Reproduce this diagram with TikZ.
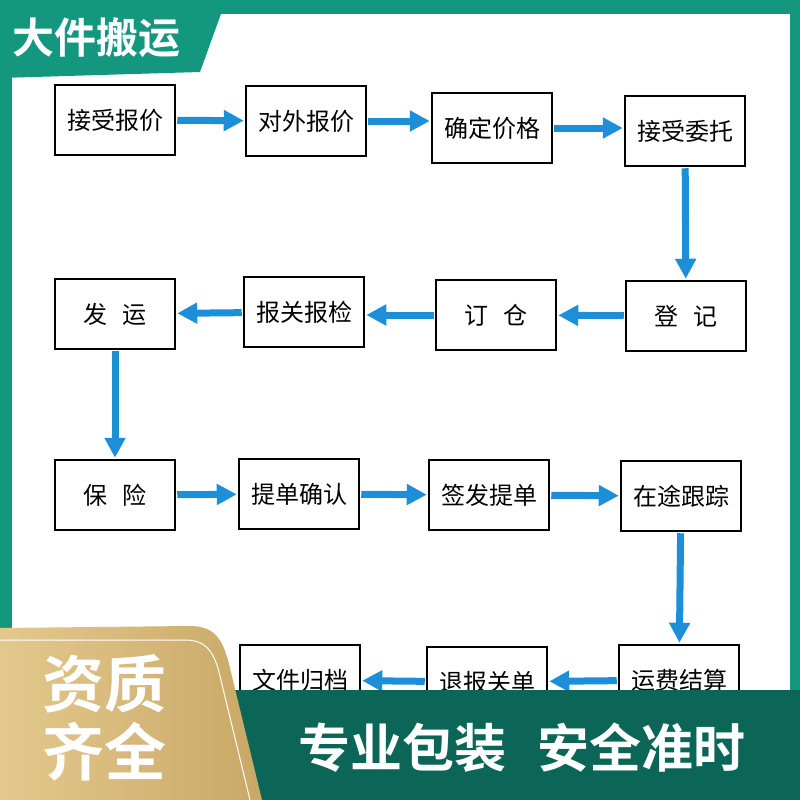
\documentclass[tikz,border=0pt]{standalone}
\usepackage{fontspec}
\setmainfont{Noto Sans CJK SC}
\newfontfamily\cjkb{Noto Sans CJK SC Bold}
\usetikzlibrary{arrows.meta}
\definecolor{teal1}{HTML}{14977F}
\definecolor{dkgreen}{HTML}{0B6657}
\definecolor{gold1}{HTML}{E3C98E}
\definecolor{gold2}{HTML}{C9A866}
\definecolor{arrblue}{HTML}{1C8FD8}
\tikzset{
 stepbox/.style={draw=black,line width=2.5pt,fill=white,minimum width=120pt,minimum height=70pt,font=\fontsize{24}{26}\selectfont,inner sep=0pt},
 flow/.style={draw=arrblue,line width=7pt,-{Triangle[length=20pt,width=20pt]},shorten <=1pt,shorten >=1pt}
}
\begin{document}
\begin{tikzpicture}[x=1pt,y=-1pt]
\useasboundingbox (0,0) rectangle (800,800);
\fill[teal1] (0,0) rectangle (800,800);
\fill[white] (12,14) rectangle (790,700);
% banner
\fill[teal1] (0,0) -- (226,0) -- (200,72) -- (0,78) -- cycle;
\node[text=white,anchor=west,font=\cjkb\fontsize{42}{44}\selectfont,inner sep=0pt] (ban) at (12,38) {大件搬运};
% boxes
\node[stepbox] (a1) at (115,120) {接受报价};
\node[stepbox] (a2) at (306,121) {对外报价};
\node[stepbox] (a3) at (492,128) {确定价格};
\node[stepbox] (a4) at (685,131) {接受委托};
\node[stepbox] (b4) at (686,316) {登\hspace{0.6em}记};
\node[stepbox] (b3) at (496,315) {订\hspace{0.6em}仓};
\node[stepbox] (b2) at (304,312) {报关报检};
\node[stepbox] (b1) at (115,314) {发\hspace{0.6em}运};
\node[stepbox] (c1) at (115,495) {保\hspace{0.6em}险};
\node[stepbox] (c2) at (299,494) {提单确认};
\node[stepbox] (c3) at (489,495) {签发提单};
\node[stepbox] (c4) at (681,496) {在途跟踪};
\node[stepbox] (d4) at (679,680) {运费结算};
\node[stepbox] (d3) at (487,682) {退报关单};
\node[stepbox] (d2) at (300,680) {文件归档};
% arrows
\draw[flow] (a1) -- (a2);
\draw[flow] (a2.east) -- (a3.west|-a2.east);
\draw[flow] (a3.east) -- (a4.west|-a3.east);
\draw[flow] (a4) -- (b4);
\draw[flow] (b4) -- (b3);
\draw[flow] (b3.west) -- (b2.east|-b3.west);
\draw[flow] (b2) -- (b1);
\draw[flow] (b1) -- (c1);
\draw[flow] (c1) -- (c2);
\draw[flow] (c2) -- (c3);
\draw[flow] (c3) -- (c4);
\draw[flow] (c4) -- (d4);
\draw[flow] (d4) -- (d3);
\draw[flow] (d3) -- (d2);
% bottom band
\fill[dkgreen] (230,690) -- (800,690) -- (800,800) -- (230,800) -- cycle;
\shade[left color=gold1,right color=gold2] (0,628) -- (190,626) .. controls (215,626) and (222,640) .. (228,660) -- (262,800) -- (0,800) -- cycle;
\draw[white,line width=1pt] (0,640) -- (185,640) .. controls (205,640) and (212,650) .. (218,668) -- (250,800);
\node[text=white,font=\cjkb\fontsize{62}{68}\selectfont,align=center,inner sep=0pt] (zz) at (104,718) {资质\\齐全};
\node[text=white,font=\cjkb\fontsize{52}{56}\selectfont,inner sep=0pt] (sl) at (522,748) {专业包装\hspace{0.6em}安全准时};
\end{tikzpicture}
\end{document}
